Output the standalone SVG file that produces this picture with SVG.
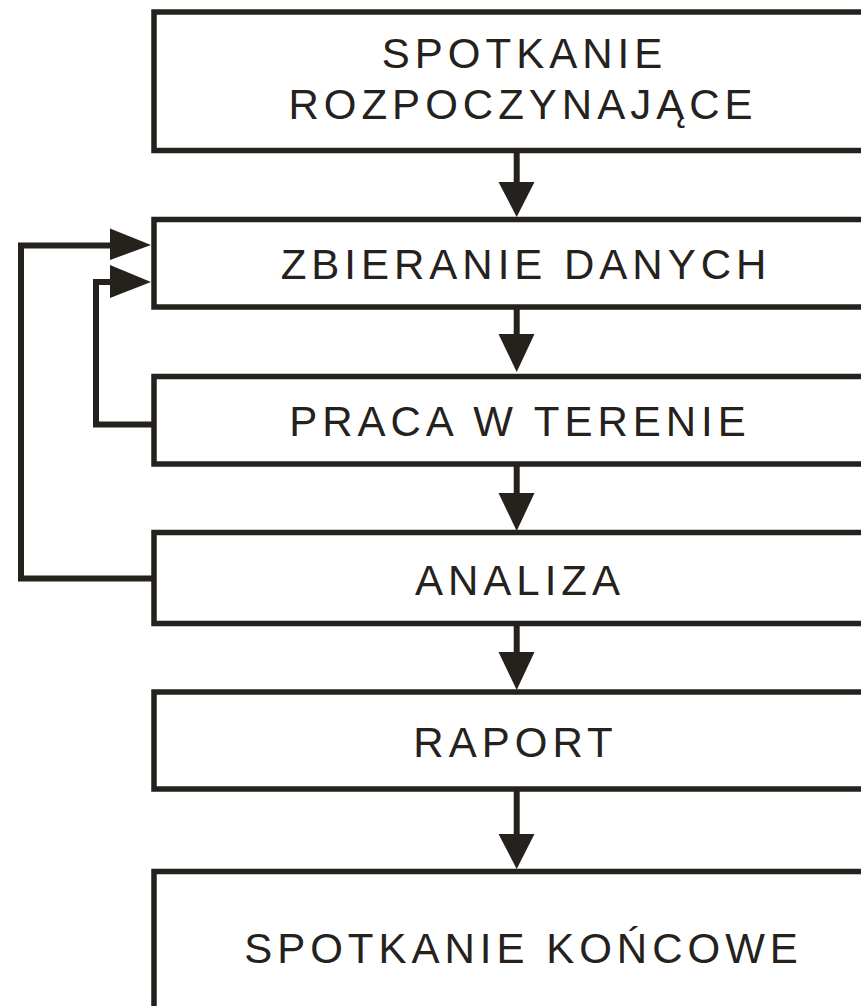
<svg xmlns="http://www.w3.org/2000/svg" width="861" height="1006" viewBox="0 0 861 1006">
<style>
.box{fill:#fff;stroke:#25211d;stroke-width:5.5}
.lbl{font-family:"Liberation Sans",Arial,sans-serif;font-size:42px;letter-spacing:5px;fill:#25211d;text-anchor:middle}
.ln{fill:none;stroke:#25211d;stroke-width:6}
.hd{fill:#25211d}
</style>
<rect width="861" height="1006" fill="#fff"/>
<g id="connectors">
<line class="ln" x1="516.7" y1="150" x2="516.7" y2="186"/>
<polygon class="hd" points="498.5,182 534.5,182 516.7,217"/>
<line class="ln" x1="516.7" y1="307" x2="516.7" y2="338"/>
<polygon class="hd" points="498.5,334 534.5,334 516.7,372"/>
<line class="ln" x1="516.7" y1="464" x2="516.7" y2="497"/>
<polygon class="hd" points="498.5,493 534.5,493 516.7,531"/>
<line class="ln" x1="516.7" y1="623" x2="516.7" y2="656"/>
<polygon class="hd" points="498.5,652 534.5,652 516.7,690"/>
<line class="ln" x1="516.7" y1="789" x2="516.7" y2="838"/>
<polygon class="hd" points="498.5,834 534.5,834 516.7,869"/>
<polyline class="ln" points="154,578.5 21,578.5 21,245.5 114,245.5"/>
<polygon class="hd" points="110,228.5 151,245 110,260"/>
<polyline class="ln" points="154,424.5 96,424.5 96,282 114,282"/>
<polygon class="hd" points="110,265 151,282 110,298"/>
</g>
<g id="n1"><rect class="box" x="154" y="12" width="760" height="138.5"/>
<text class="lbl" x="524.5" y="68">SPOTKANIE</text>
<text class="lbl" x="523" y="119">ROZPOCZYNAJĄCE</text></g>
<g id="n2"><rect class="box" x="154" y="219.5" width="760" height="87.5"/>
<text class="lbl" x="526" y="279">ZBIERANIE DANYCH</text></g>
<g id="n3"><rect class="box" x="154" y="376.5" width="760" height="87.5"/>
<text class="lbl" x="520" y="435.5">PRACA W TERENIE</text></g>
<g id="n4"><rect class="box" x="154" y="532.5" width="760" height="91"/>
<text class="lbl" x="520" y="595">ANALIZA</text></g>
<g id="n5"><rect class="box" x="154" y="692" width="760" height="97"/>
<text class="lbl" x="515.5" y="756.5">RAPORT</text></g>
<g id="n6"><rect class="box" x="154" y="871.5" width="760" height="200"/>
<text class="lbl" x="523.5" y="962.5">SPOTKANIE KOŃCOWE</text></g>
</svg>
